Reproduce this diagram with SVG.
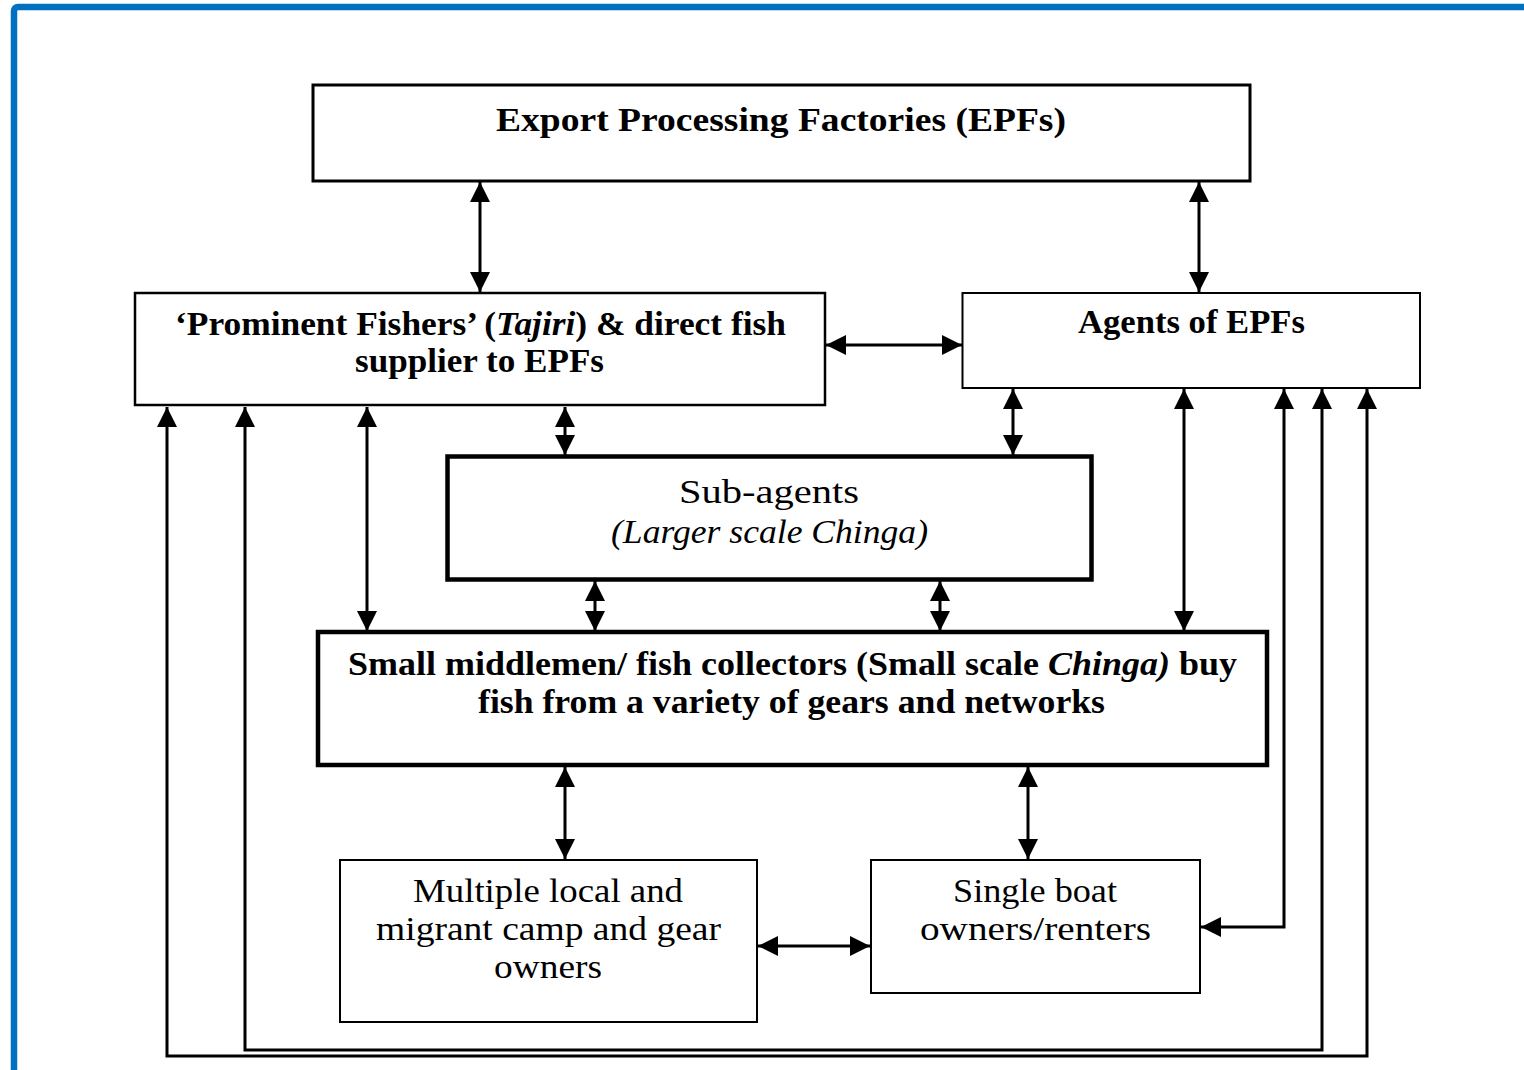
<svg xmlns="http://www.w3.org/2000/svg" width="1524" height="1070" viewBox="0 0 1524 1070">
<style>
.box{fill:#fff;stroke:#000}
.t{font-family:"Liberation Serif",serif;font-size:34px;fill:#000;text-anchor:middle}
.b{font-weight:bold}
.i{font-style:italic}
.c{fill:none;stroke:#000;stroke-width:3;marker-start:url(#ah);marker-end:url(#ah)}
.c1{fill:none;stroke:#000;stroke-width:3}
</style>
<defs>
<marker id="ah" markerUnits="userSpaceOnUse" markerWidth="20" markerHeight="20" viewBox="0 0 20 20" refX="20" refY="10" orient="auto-start-reverse"><path d="M0,0 L20,10 L0,20 z" fill="#000"/></marker>
</defs>
<rect x="0" y="0" width="1524" height="1070" fill="#fff"/>
<rect x="14" y="7" width="1530" height="1090" rx="4" fill="none" stroke="#0070C0" stroke-width="6.5"/>

<g id="connectors">
<line class="c" x1="480" y1="182" x2="480" y2="292"/>
<line class="c" x1="1199" y1="182" x2="1199" y2="292"/>
<line class="c" x1="826" y1="345" x2="962" y2="345"/>
<line class="c" x1="367" y1="407" x2="367" y2="631"/>
<line class="c" x1="565" y1="407" x2="565" y2="455"/>
<line class="c" x1="1013" y1="389" x2="1013" y2="455"/>
<line class="c" x1="1184" y1="389" x2="1184" y2="631"/>
<line class="c" x1="595" y1="581" x2="595" y2="631"/>
<line class="c" x1="940" y1="581" x2="940" y2="631"/>
<line class="c" x1="565" y1="767" x2="565" y2="859"/>
<line class="c" x1="1028" y1="767" x2="1028" y2="859"/>
<line class="c" x1="758" y1="946" x2="870" y2="946"/>
<path class="c" d="M1201,927 H1284 V389"/>
<path class="c" d="M245,407 V1050 H1322 V389"/>
<path class="c" d="M167,407 V1056 H1367 V389"/>
</g>

<g id="epf">
<rect class="box" x="313" y="85" width="937" height="96" stroke-width="3"/>
<text class="t b" x="781" y="131" textLength="570" lengthAdjust="spacingAndGlyphs">Export Processing Factories (EPFs)</text>
</g>

<g id="prominent">
<rect class="box" x="135" y="293" width="690" height="112" stroke-width="2.5"/>
<text class="t b" x="480.5" y="335" textLength="611" lengthAdjust="spacingAndGlyphs">‘Prominent Fishers’ (<tspan class="i">Tajiri</tspan>) &amp; direct fish</text>
<text class="t b" x="479.5" y="372" textLength="249" lengthAdjust="spacingAndGlyphs">supplier to EPFs</text>
</g>

<g id="agents">
<rect class="box" x="962.5" y="293" width="457.5" height="95" stroke-width="2"/>
<text class="t b" x="1191.5" y="333" textLength="227" lengthAdjust="spacingAndGlyphs">Agents of EPFs</text>
</g>

<g id="subagents">
<rect class="box" x="447.5" y="456.5" width="644" height="123" stroke-width="4.5"/>
<text class="t" x="769" y="503" textLength="180" lengthAdjust="spacingAndGlyphs">Sub-agents</text>
<text class="t i" x="769.5" y="543" textLength="317" lengthAdjust="spacingAndGlyphs">(Larger scale Chinga)</text>
</g>

<g id="middlemen">
<rect class="box" x="318" y="632" width="949" height="133" stroke-width="4.5"/>
<text class="t b" x="792.5" y="675" textLength="889" lengthAdjust="spacingAndGlyphs">Small middlemen/ fish collectors (Small scale <tspan class="i">Chinga)</tspan> buy</text>
<text class="t b" x="791.5" y="713" textLength="627" lengthAdjust="spacingAndGlyphs">fish from a variety of gears and networks</text>
</g>

<g id="multiple">
<rect class="box" x="340" y="860" width="417" height="162" stroke-width="2"/>
<text class="t" x="548" y="902" textLength="270" lengthAdjust="spacingAndGlyphs">Multiple local and</text>
<text class="t" x="548.5" y="940" textLength="345" lengthAdjust="spacingAndGlyphs">migrant camp and gear</text>
<text class="t" x="548" y="978" textLength="108" lengthAdjust="spacingAndGlyphs">owners</text>
</g>

<g id="single">
<rect class="box" x="871" y="860" width="329" height="133" stroke-width="2"/>
<text class="t" x="1035" y="902" textLength="164" lengthAdjust="spacingAndGlyphs">Single boat</text>
<text class="t" x="1035.5" y="940" textLength="231" lengthAdjust="spacingAndGlyphs">owners/renters</text>
</g>
</svg>
